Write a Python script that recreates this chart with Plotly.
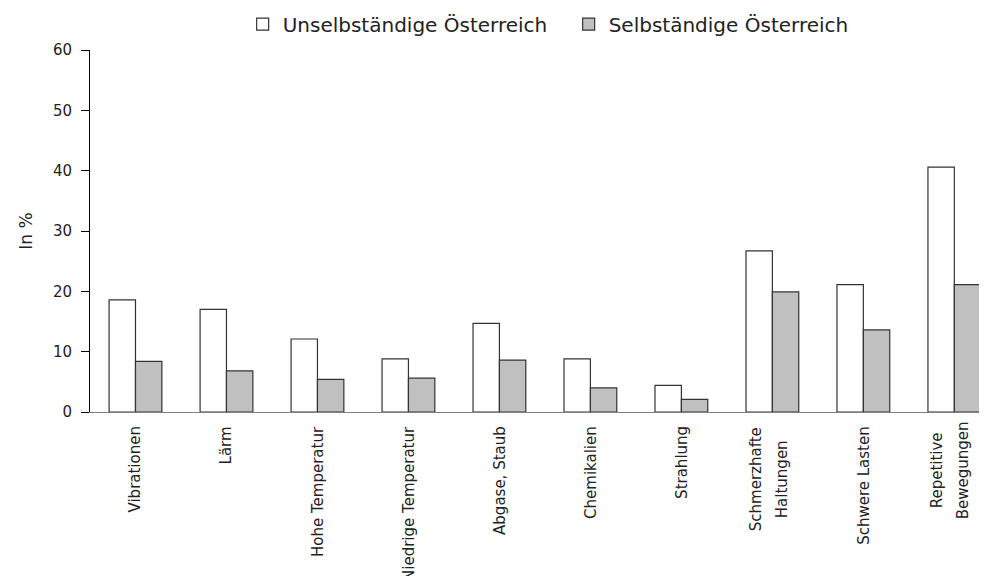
import plotly.graph_objects as go

# categories and values
categories = ["Vibrationen", "Lärm", "Hohe Temperatur", "Niedrige Temperatur",
              "Abgase, Staub", "Chemikalien", "Strahlung",
              "Schmerzhafte<br>Haltungen", "Schwere Lasten", "Repetitive<br>Bewegungen"]
unselbstaendige = [18.6, 17.0, 12.1, 8.8, 14.7, 8.8, 4.4, 26.7, 21.1, 40.6]
selbstaendige = [8.4, 6.8, 5.4, 5.6, 8.6, 4.0, 2.1, 19.9, 13.6, 21.1]
y_ticks = [0, 10, 20, 30, 40, 50, 60]

font_family = "Century Gothic, URW Gothic, DejaVu Sans, sans-serif"
label_font = dict(size=15, family=font_family, color="#222222")

fig = go.Figure()
fig.add_trace(go.Bar(x=categories, y=unselbstaendige, name="Unselbständige Österreich",
                     marker=dict(color="white", line=dict(color="#333333", width=1.2))))
fig.add_trace(go.Bar(x=categories, y=selbstaendige, name="Selbständige Österreich",
                     marker=dict(color="#c0c0c0", line=dict(color="#333333", width=1.2))))

# category labels as rotated annotations; wrapped lines centred and widely spaced
char_w = 8.8
for cat in categories:
    lines = cat.split("<br>")
    if len(lines) == 1:
        fig.add_annotation(x=cat, y=0, xref="x", yref="paper", text=cat,
                           textangle=-90, yanchor="top", xanchor="center",
                           yshift=-12, showarrow=False, font=label_font)
        continue
    longest = max(len(s) for s in lines)
    mid = -14 - longest * char_w / 2
    for i, line in enumerate(lines):
        fig.add_annotation(x=cat, y=0, xref="x", yref="paper", text=line,
                           textangle=-90, yanchor="middle", xanchor="center",
                           yshift=mid, xshift=-4 + (i - (len(lines) - 1) / 2) * 26,
                           showarrow=False, font=label_font)

fig.update_layout(
    width=987, height=576,
    margin=dict(l=82, r=7, t=42, b=172),
    paper_bgcolor="white", plot_bgcolor="white",
    font=dict(family=font_family, color="#222222"),
    barmode="group", bargap=0.42, bargroupgap=0,
    legend=dict(orientation="h", x=0.170, xanchor="left",
                y=0.972, yref="container", yanchor="middle",
                font=dict(size=20), itemwidth=30, entrywidth=281),
    showlegend=True,
)
fig.update_xaxes(
    range=[-0.5, 9.37], showticklabels=False,
    showline=True, linecolor="#808080", linewidth=1, ticks="",
    showgrid=False, automargin=False,
)
fig.update_yaxes(
    range=[0, 60], tickvals=y_ticks, tickfont=dict(size=15),
    showline=True, linecolor="#000000", linewidth=1,
    ticks="outside", ticklen=8, tickcolor="#000000", ticklabelstandoff=6,
    showgrid=False, zeroline=False,
    title=dict(text="In %", font=dict(size=17), standoff=15), automargin=False,
)

fig.write_html("out.html")
